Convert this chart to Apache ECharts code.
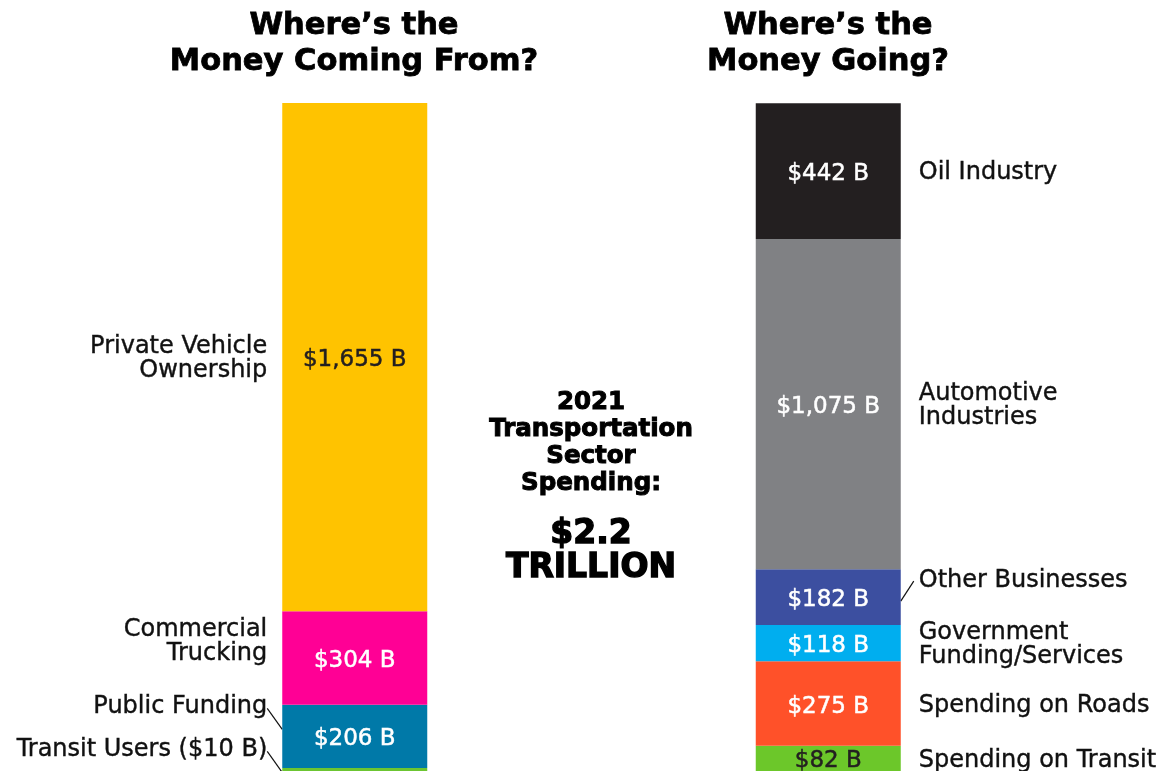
<!DOCTYPE html>
<html>
<head>
<meta charset="utf-8">
<style>
  html, body { margin: 0; padding: 0; background: #fff; }
  #main { width: 1162px; height: 771px; }
</style>
</head>
<body>
<div id="main"></div>
<script src="https://cdn.jsdelivr.net/npm/echarts@6/dist/echarts.min.js"></script>
<script type="text/javascript">

    // data (billions of dollars), stacked from the bottom up
    var sources = ['Transit Users ($10 B)', 'Public Funding', 'Commercial\nTrucking', 'Private Vehicle\nOwnership'];
    var sourceValues = [10, 206, 304, 1655];
    var uses = ['Spending on Transit', 'Spending on Roads', 'Government\nFunding/Services', 'Other Businesses', 'Automotive\nIndustries', 'Oil Industry'];
    var useValues = [82, 275, 118, 182, 1075, 442];

    var sourceColors = ['#6cc531', '#0079a8', '#ff0095', '#ffc300'];
    var useColors = ['#6cc72a', '#ff5129', '#00aeef', '#3c4fa0', '#808184', '#231f20'];
    var darkLabel = { 'Private Vehicle\nOwnership': true, 'Spending on Transit': true };
    // label nudges (px) for segments that are too thin for centred names
    var nudge = { 'Commercial\nTrucking': -18, 'Public Funding': -32, 'Transit Users ($10 B)': -22, 'Other Businesses': -18 };
    var leader = { 'Public Funding': true, 'Transit Users ($10 B)': true, 'Other Businesses': true };

    var FONT = '"DejaVu Sans", sans-serif';
    var BAR_W = 145;

    function fmt(v) {
        return '$' + v.toLocaleString('en-US') + ' B';
    }

    var series = [];
    var nameData = [];

    function addSide(names, values, colors, side) {
        var cum = 0;
        names.forEach(function (name, i) {
            var d = side === 0 ? [values[i], '-'] : ['-', values[i]];
            var c = darkLabel[name] ? '#231f20' : '#ffffff';
            series.push({
                name: name,
                type: 'bar',
                stack: 'all',
                barWidth: BAR_W,
                data: d,
                itemStyle: { color: colors[i] },
                label: {
                    show: values[i] > 30,
                    position: 'inside',
                    offset: [0, 3],
                    formatter: function (p) { return fmt(p.value); },
                    color: c,
                    textBorderColor: c,
                    textBorderWidth: 0.5,
                    fontFamily: FONT,
                    fontSize: 23
                },
                emphasis: { disabled: true },
                silent: true
            });
            nameData.push([side, cum + values[i] / 2, name]);
            cum += values[i];
        });
    }

    addSide(sources, sourceValues, sourceColors, 0);
    addSide(uses, useValues, useColors, 1);

    series.push({
        type: 'custom',
        silent: true,
        data: nameData,
        renderItem: function (params, api) {
            var side = api.value(0);
            var name = nameData[params.dataIndex][2];
            var pt = api.coord([side, api.value(1)]);
            var y = pt[1] + 2 + (nudge[name] || 0);
            var edge = side === 0 ? pt[0] - BAR_W / 2 : pt[0] + BAR_W / 2;
            var tx = side === 0 ? edge - 15 : edge + 18;
            var children = [{
                type: 'text',
                x: tx,
                y: y,
                style: {
                    text: name,
                    fill: '#111',
                    stroke: '#111',
                    lineWidth: 0.4,
                    font: '24px ' + FONT,
                    lineHeight: 24,
                    align: side === 0 ? 'right' : 'left',
                    verticalAlign: 'middle'
                }
            }];
            if (leader[name]) {
                children.push({
                    type: 'line',
                    shape: side === 0
                        ? { x1: edge, y1: y + 23, x2: edge - 15, y2: y + 2 }
                        : { x1: edge, y1: y + 20, x2: edge + 13, y2: y },
                    style: { stroke: '#111', lineWidth: 1.2 }
                });
            }
            return { type: 'group', children: children };
        }
    });

    var myChart = echarts.init(document.getElementById('main'));

    var option = {
        backgroundColor: '#ffffff',
        animation: false,
        grid: { left: 118, right: 97, top: 103, bottom: 0 },
        xAxis: {
            type: 'category',
            data: ['from', 'to'],
            show: false
        },
        yAxis: {
            type: 'value',
            min: 0,
            max: 2175,
            show: false
        },
        graphic: [
            {
                type: 'text', x: 354, y: 44,
                style: {
                    text: 'Where\u2019s the\nMoney Coming From?',
                    font: 'bold 30.5px ' + FONT, fill: '#000', stroke: '#000', lineWidth: 0.8, lineHeight: 36,
                    align: 'center', verticalAlign: 'middle'
                }
            },
            {
                type: 'text', x: 828, y: 44,
                style: {
                    text: 'Where\u2019s the\nMoney Going?',
                    font: 'bold 30.5px ' + FONT, fill: '#000', stroke: '#000', lineWidth: 0.8, lineHeight: 36,
                    align: 'center', verticalAlign: 'middle'
                }
            },
            {
                type: 'text', x: 591, y: 443,
                style: {
                    text: '2021\nTransportation\nSector\nSpending:',
                    font: 'bold 24.5px ' + FONT, fill: '#000', stroke: '#000', lineWidth: 1, lineHeight: 27,
                    align: 'center', verticalAlign: 'middle'
                }
            },
            {
                type: 'text', x: 591, y: 551,
                style: {
                    text: '$2.2\nTRILLION',
                    font: 'bold 33px ' + FONT, fill: '#000', stroke: '#000', lineWidth: 1.4, lineHeight: 34,
                    align: 'center', verticalAlign: 'middle'
                }
            }
        ],
        series: series
    };

    myChart.setOption(option);
</script>
</body>
</html>
